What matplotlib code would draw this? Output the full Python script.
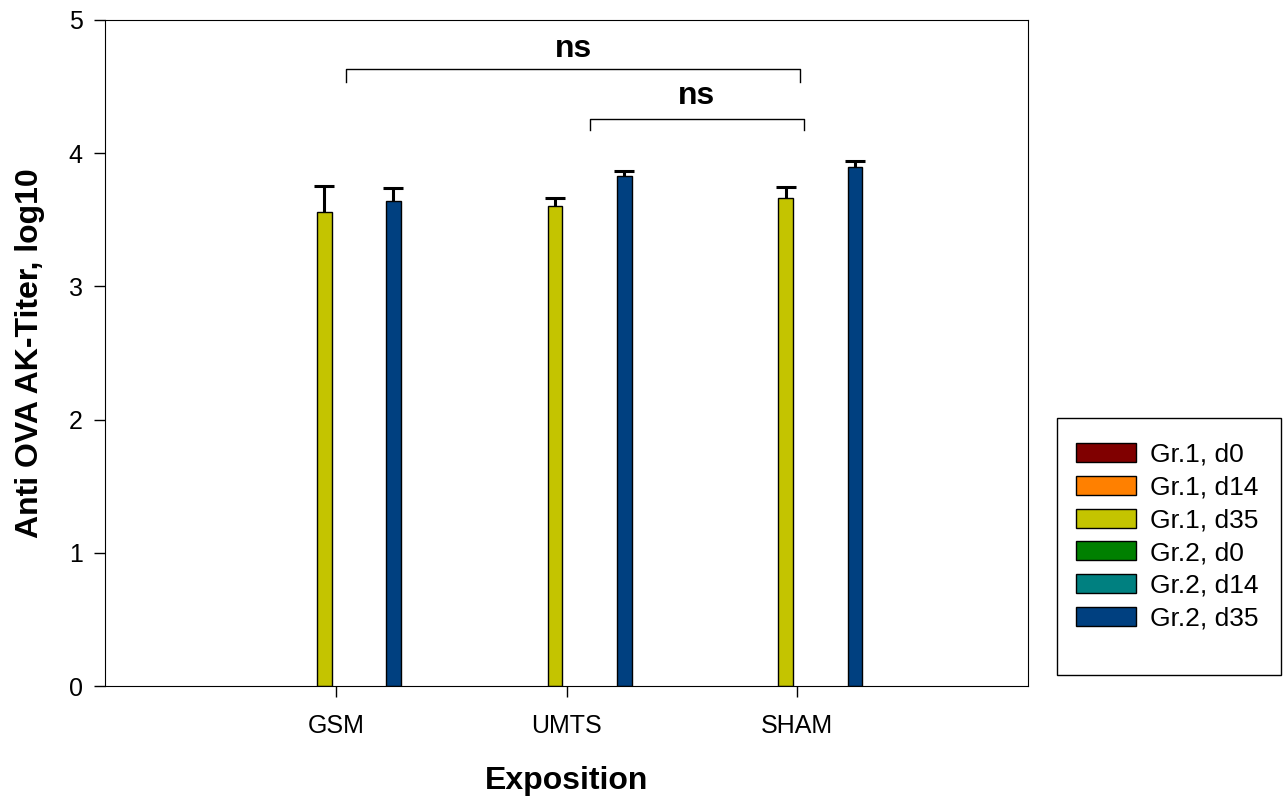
import matplotlib
matplotlib.use("Agg")
import matplotlib.pyplot as plt
from matplotlib.patches import Patch, Rectangle
import numpy as np

plt.rcParams['font.family'] = ['Liberation Sans', 'DejaVu Sans']

categories = ["GSM", "UMTS", "SHAM"]
series = ["Gr.1, d0", "Gr.1, d14", "Gr.1, d35", "Gr.2, d0", "Gr.2, d14", "Gr.2, d35"]
colors = ["#800000", "#ff8000", "#c4c400", "#008000", "#008080", "#004080"]
values = {
    "Gr.1, d35": [3.56, 3.60, 3.66],
    "Gr.2, d35": [3.64, 3.83, 3.90],
}
errors = {
    "Gr.1, d35": [0.19, 0.06, 0.085],
    "Gr.2, d35": [0.095, 0.04, 0.042],
}

W, H = 1284, 799
fig = plt.figure(figsize=(W / 100, H / 100), dpi=100)
ax = fig.add_axes([0.0818, 0.1414, 0.7188, 0.8336])

x = np.arange(1, len(categories) + 1)
step = 0.1
width = 0.064
handles = []
for i, (s, c) in enumerate(zip(series, colors)):
    off = (i - 2.5) * step
    if s in values:
        ax.bar(x + off, values[s], width, color=c, edgecolor="black", linewidth=1)
        _, caps, _ = ax.errorbar(x + off, values[s], yerr=[np.zeros(3), errors[s]], fmt="none",
                                 ecolor="black", elinewidth=2.2, capsize=7.5, capthick=2.2)
        caps[0].set_visible(False)
    handles.append(Patch(facecolor=c, edgecolor="black", linewidth=1, label=s))

ax.set_xlim(0, 4)
ax.set_ylim(0, 5)
ax.set_xticks(x)
ax.set_xticklabels(categories, fontsize=18)
ax.set_yticks([0, 1, 2, 3, 4, 5])
ax.tick_params(axis="both", direction="out", length=8, width=1, labelsize=18, pad=8)
ax.tick_params(axis="x", pad=12)
ax.set_xlabel("Exposition", fontsize=23, fontweight="bold", labelpad=20)
ax.set_ylabel("Anti OVA AK-Titer, log10", fontsize=23, fontweight="bold", labelpad=17)

# significance brackets
def bracket(x1, x2, y, ytick, txt, ty):
    ax.plot([x1, x1, x2, x2], [ytick, y, y, ytick], color="black", lw=1)
    ax.text((x1 + x2) / 2, ty, txt, ha="center", va="center", fontsize=23, fontweight="bold")

bracket(1.046, 3.013, 4.63, 4.537, "ns", 4.78)
bracket(2.100, 3.030, 4.255, 4.174, "ns", 4.43)

# legend (frame drawn separately to match the reference's box)
leg = fig.legend(handles=handles, loc="upper left",
                 bbox_to_anchor=(1076 / W, 1 - 443 / H), fontsize=19,
                 frameon=False, handlelength=2.27, handleheight=0.72,
                 borderpad=0, labelspacing=0.33, handletextpad=0.53, borderaxespad=0)
fig.add_artist(Rectangle((1057 / W, 1 - 675 / H), (1281 - 1057) / W, (675 - 418) / H,
                         transform=fig.transFigure, facecolor="none", edgecolor="black",
                         linewidth=1))

fig.savefig("out.png", dpi=100)
